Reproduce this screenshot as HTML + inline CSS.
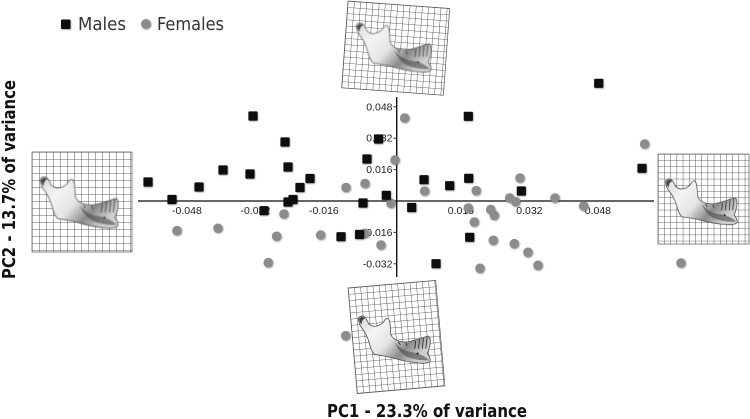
<!DOCTYPE html>
<html lang="en">
<head>
<meta charset="utf-8">
<title>PCA scatter of mandible shape</title>
<style>
html,body{margin:0;padding:0;background:#fff;}
#chart{display:block;width:750px;height:419px;}
</style>
</head>
<body>
<svg id="chart" xmlns="http://www.w3.org/2000/svg" width="750" height="419" viewBox="0 0 750 419">
  <defs>
    <filter id="soft" x="-40%" y="-40%" width="200%" height="200%">
      <feDropShadow dx="0.6" dy="0.8" stdDeviation="0.8" flood-color="#000" flood-opacity="0.4"/>
    </filter>
    <filter id="blur" x="-5%" y="-5%" width="110%" height="110%"><feGaussianBlur stdDeviation="0.4"/></filter>
    <pattern id="grid6" width="6.2" height="6.2" patternUnits="userSpaceOnUse">
      <path d="M6.2 0H0V6.2" fill="none" stroke="#333" stroke-width="0.8"/>
    </pattern>
    <pattern id="grid7" width="7" height="7" patternUnits="userSpaceOnUse">
      <path d="M7 0H0V7" fill="none" stroke="#333" stroke-width="0.8"/>
    </pattern>
    <linearGradient id="bone" x1="0" y1="0" x2="1" y2="0.6">
      <stop offset="0" stop-color="#d8d8d8"/>
      <stop offset="0.3" stop-color="#f4f4f4"/>
      <stop offset="0.55" stop-color="#e4e4e4"/>
      <stop offset="0.78" stop-color="#8a8a8a"/>
      <stop offset="1" stop-color="#d0d0d0"/>
    </linearGradient>
    <g id="jaw" filter="url(#blur)">
      <path d="M16.5 25 Q20 21 24 25 L27 31 Q31 35 37 33 Q42 31 44 27 Q47 23 49 29 Q50 36 50 42 Q52 47 58 49 Q65 51 72 49 Q80 47 88 44 Q92 43 91 52 Q90 58 88 62 Q92 67 91 70 Q88 73 80 72 Q66 71 50 66 Q40 64 33 63 Q29 58 28 52 Q25 42 21 37 Q16 31 16.5 25Z" fill="url(#bone)" stroke="#444" stroke-width="0.8"/>
      <path d="M17 26 Q20 22 23.500 25.500 Q20 26 19.500 32 Q17 29 17 26Z" fill="#444"/>
      <path d="M76 49 L75 57 M80 47.500 L79 57 M84 46 L83 57 M88 45 L86.500 57 M58 50 L60 53 M66 51 L67 54" stroke="#222" stroke-width="0.9" fill="none"/>
      <path d="M54 50 Q62 60 74 61 Q84 63 90 69 Q78 70 66 65 Q58 60 54 50Z" fill="#4a4a4a" opacity="0.6"/>
      <circle cx="78" cy="62" r="1" fill="#111"/>
    </g>
  </defs>

  <g id="thumbs">
    <g>
      <g transform="translate(348,1) rotate(4.2)">
        <rect width="102" height="87" fill="#fff"/>
        <rect width="102" height="87" fill="url(#grid6)" stroke="#555" stroke-width="0.7"/>
      </g>
      <use href="#jaw" transform="translate(340,0)"/>
    </g>
    <g>
      <g transform="translate(32,152)">
        <rect width="100" height="100" fill="#fff"/>
        <rect width="100" height="100" fill="url(#grid7)" stroke="#555" stroke-width="0.7"/>
      </g>
      <use href="#jaw" transform="translate(42,178) scale(1.04) translate(-18,-24)"/>
    </g>
    <g>
      <g transform="translate(658,154)">
        <rect width="91" height="90" fill="#fff"/>
        <rect width="91" height="90" fill="url(#grid6)" stroke="#555" stroke-width="0.7"/>
      </g>
      <use href="#jaw" transform="translate(667,180) rotate(-1) scale(.95) translate(-18,-24)"/>
    </g>
    <g>
      <g transform="translate(348,288) rotate(-5)">
        <rect width="88" height="106" fill="#fff"/>
        <rect width="88" height="106" fill="url(#grid6)" stroke="#555" stroke-width="0.7"/>
      </g>
      <use href="#jaw" transform="translate(360,317) scale(.96) translate(-18,-24)"/>
    </g>
  </g>

  <g id="labels" font-family="'Liberation Sans', sans-serif" font-size="10.500" fill="#222"></g>

  <line x1="138" y1="201" x2="654" y2="201" stroke="#333" stroke-width="1.5"/>
  <line x1="396.7" y1="97" x2="396.7" y2="277" stroke="#111" stroke-width="1.4"/>

  <g id="ticks"></g>
  <g id="marks"></g>

  <g font-family="'DejaVu Sans', sans-serif" font-size="18" fill="#333">
    <rect x="61" y="19.500" width="9.500" height="9.500" rx="1" fill="#111" filter="url(#soft)"/>
    <text x="78" y="30" textLength="48" lengthAdjust="spacingAndGlyphs">Males</text>
    <circle cx="146" cy="24" r="5" fill="#8c8c8c" filter="url(#soft)"/>
    <text x="157" y="30" textLength="67" lengthAdjust="spacingAndGlyphs">Females</text>
  </g>

  <text x="327" y="417" font-family="'DejaVu Sans', sans-serif" font-weight="700" font-size="17.500" fill="#111" textLength="200" lengthAdjust="spacingAndGlyphs">PC1 - 23.3% of variance</text>
  <text transform="translate(15,279) rotate(-90)" font-family="'DejaVu Sans', sans-serif" font-weight="700" font-size="17.500" fill="#111" textLength="199" lengthAdjust="spacingAndGlyphs">PC2 - 13.7% of variance</text>
</svg>

<script>
var xTicks = [-0.048, -0.032, -0.016, 0.016, 0.032, 0.048];
var yTicks = [0.048, 0.032, 0.016, -0.016, -0.032];
var maleX = [-0.05809, -0.05249, -0.04618, -0.04057, -0.03427, -0.03357, -0.02609, -0.02539, -0.02539, -0.02422, -0.02259, -0.02025, -0.00787, -0.00694, -0.00425, -0.03100, -0.01301, -0.00869, -0.00243, 0.00350, 0.00638, 0.01238, 0.01673, 0.01682, 0.02911, 0.04719, 0.05730, 0.01705, 0.00918];
var maleY = [0.00968, 0.00076, 0.00714, 0.01580, 0.01376, 0.04332, 0.03007, 0.01733, -0.00051, 0.00076, 0.00688, 0.01147, -0.00102, 0.02141, 0.03160, -0.00494, -0.01820, -0.01707, 0.00291, -0.00331, 0.01086, 0.00780, 0.04317, 0.01157, 0.00510, 0.05999, 0.01667, -0.01850, -0.03196];
var femaleX = [-0.01184, -0.00740, 0.00187, -0.00040, -0.00133, 0.00654, 0.01859, 0.02880, 0.02640, 0.02780, 0.03698, 0.04368, 0.05793, 0.01673, 0.02196, 0.02280, 0.01813, 0.02256, 0.02747, 0.03067, 0.03301, 0.01946, -0.00367, 0.06641, -0.05132, -0.04174, -0.02803, -0.01775, -0.00740, -0.02999, -0.02633, -0.01191];
var femaleY = [0.00688, 0.00892, 0.04230, 0.02090, -0.00117, 0.00510, 0.00525, 0.01172, 0.00153, -0.00036, 0.00153, -0.00255, 0.02905, -0.00357, -0.00433, -0.00729, -0.01070, -0.02003, -0.02176, -0.02615, -0.03277, -0.03430, -0.02243, -0.03160, -0.01514, -0.01391, -0.01799, -0.01733, -0.01646, -0.03145, -0.00663, -0.06865];

var NS = 'http://www.w3.org/2000/svg';
function xScale(v) { return 396.7 + v * 4281; }
function yScale(v) { return 201 - v * 1962; }
function make(tag, attrs, parent) {
  var el = document.createElementNS(NS, tag);
  for (var k in attrs) { el.setAttribute(k, attrs[k]); }
  parent.appendChild(el);
  return el;
}

var labels = document.getElementById('labels');
var ticks = document.getElementById('ticks');
var marks = document.getElementById('marks');

xTicks.forEach(function (v) {
  var t = make('text', { x: xScale(v) - 4.3, y: 214, 'text-anchor': 'middle' }, labels);
  
  
  t.textContent = v.toFixed(3);
});
yTicks.forEach(function (v) {
  var t = make('text', { x: 392.5, y: yScale(v) + 3.5, 'text-anchor': 'end' }, labels);
  
  
  t.textContent = v.toFixed(3);
  var l = make('line', { x1: 393.5, x2: 396.7, y1: yScale(v), y2: yScale(v), stroke: '#333', 'stroke-width': 1 }, ticks);
  
  
});
femaleX.forEach(function (v, i) {
  var c = make('circle', { cx: xScale(v), cy: yScale(femaleY[i]), r: 4.8, fill: '#8c8c8c', filter: 'url(#soft)' }, marks);
  
  
});
maleX.forEach(function (v, i) {
  var r = make('rect', { x: xScale(v) - 4.6, y: yScale(maleY[i]) - 4.6, width: 9.2, height: 9.2, rx: 1, fill: '#111', filter: 'url(#soft)' }, marks);
  
  
});
</script>
</body>
</html>
